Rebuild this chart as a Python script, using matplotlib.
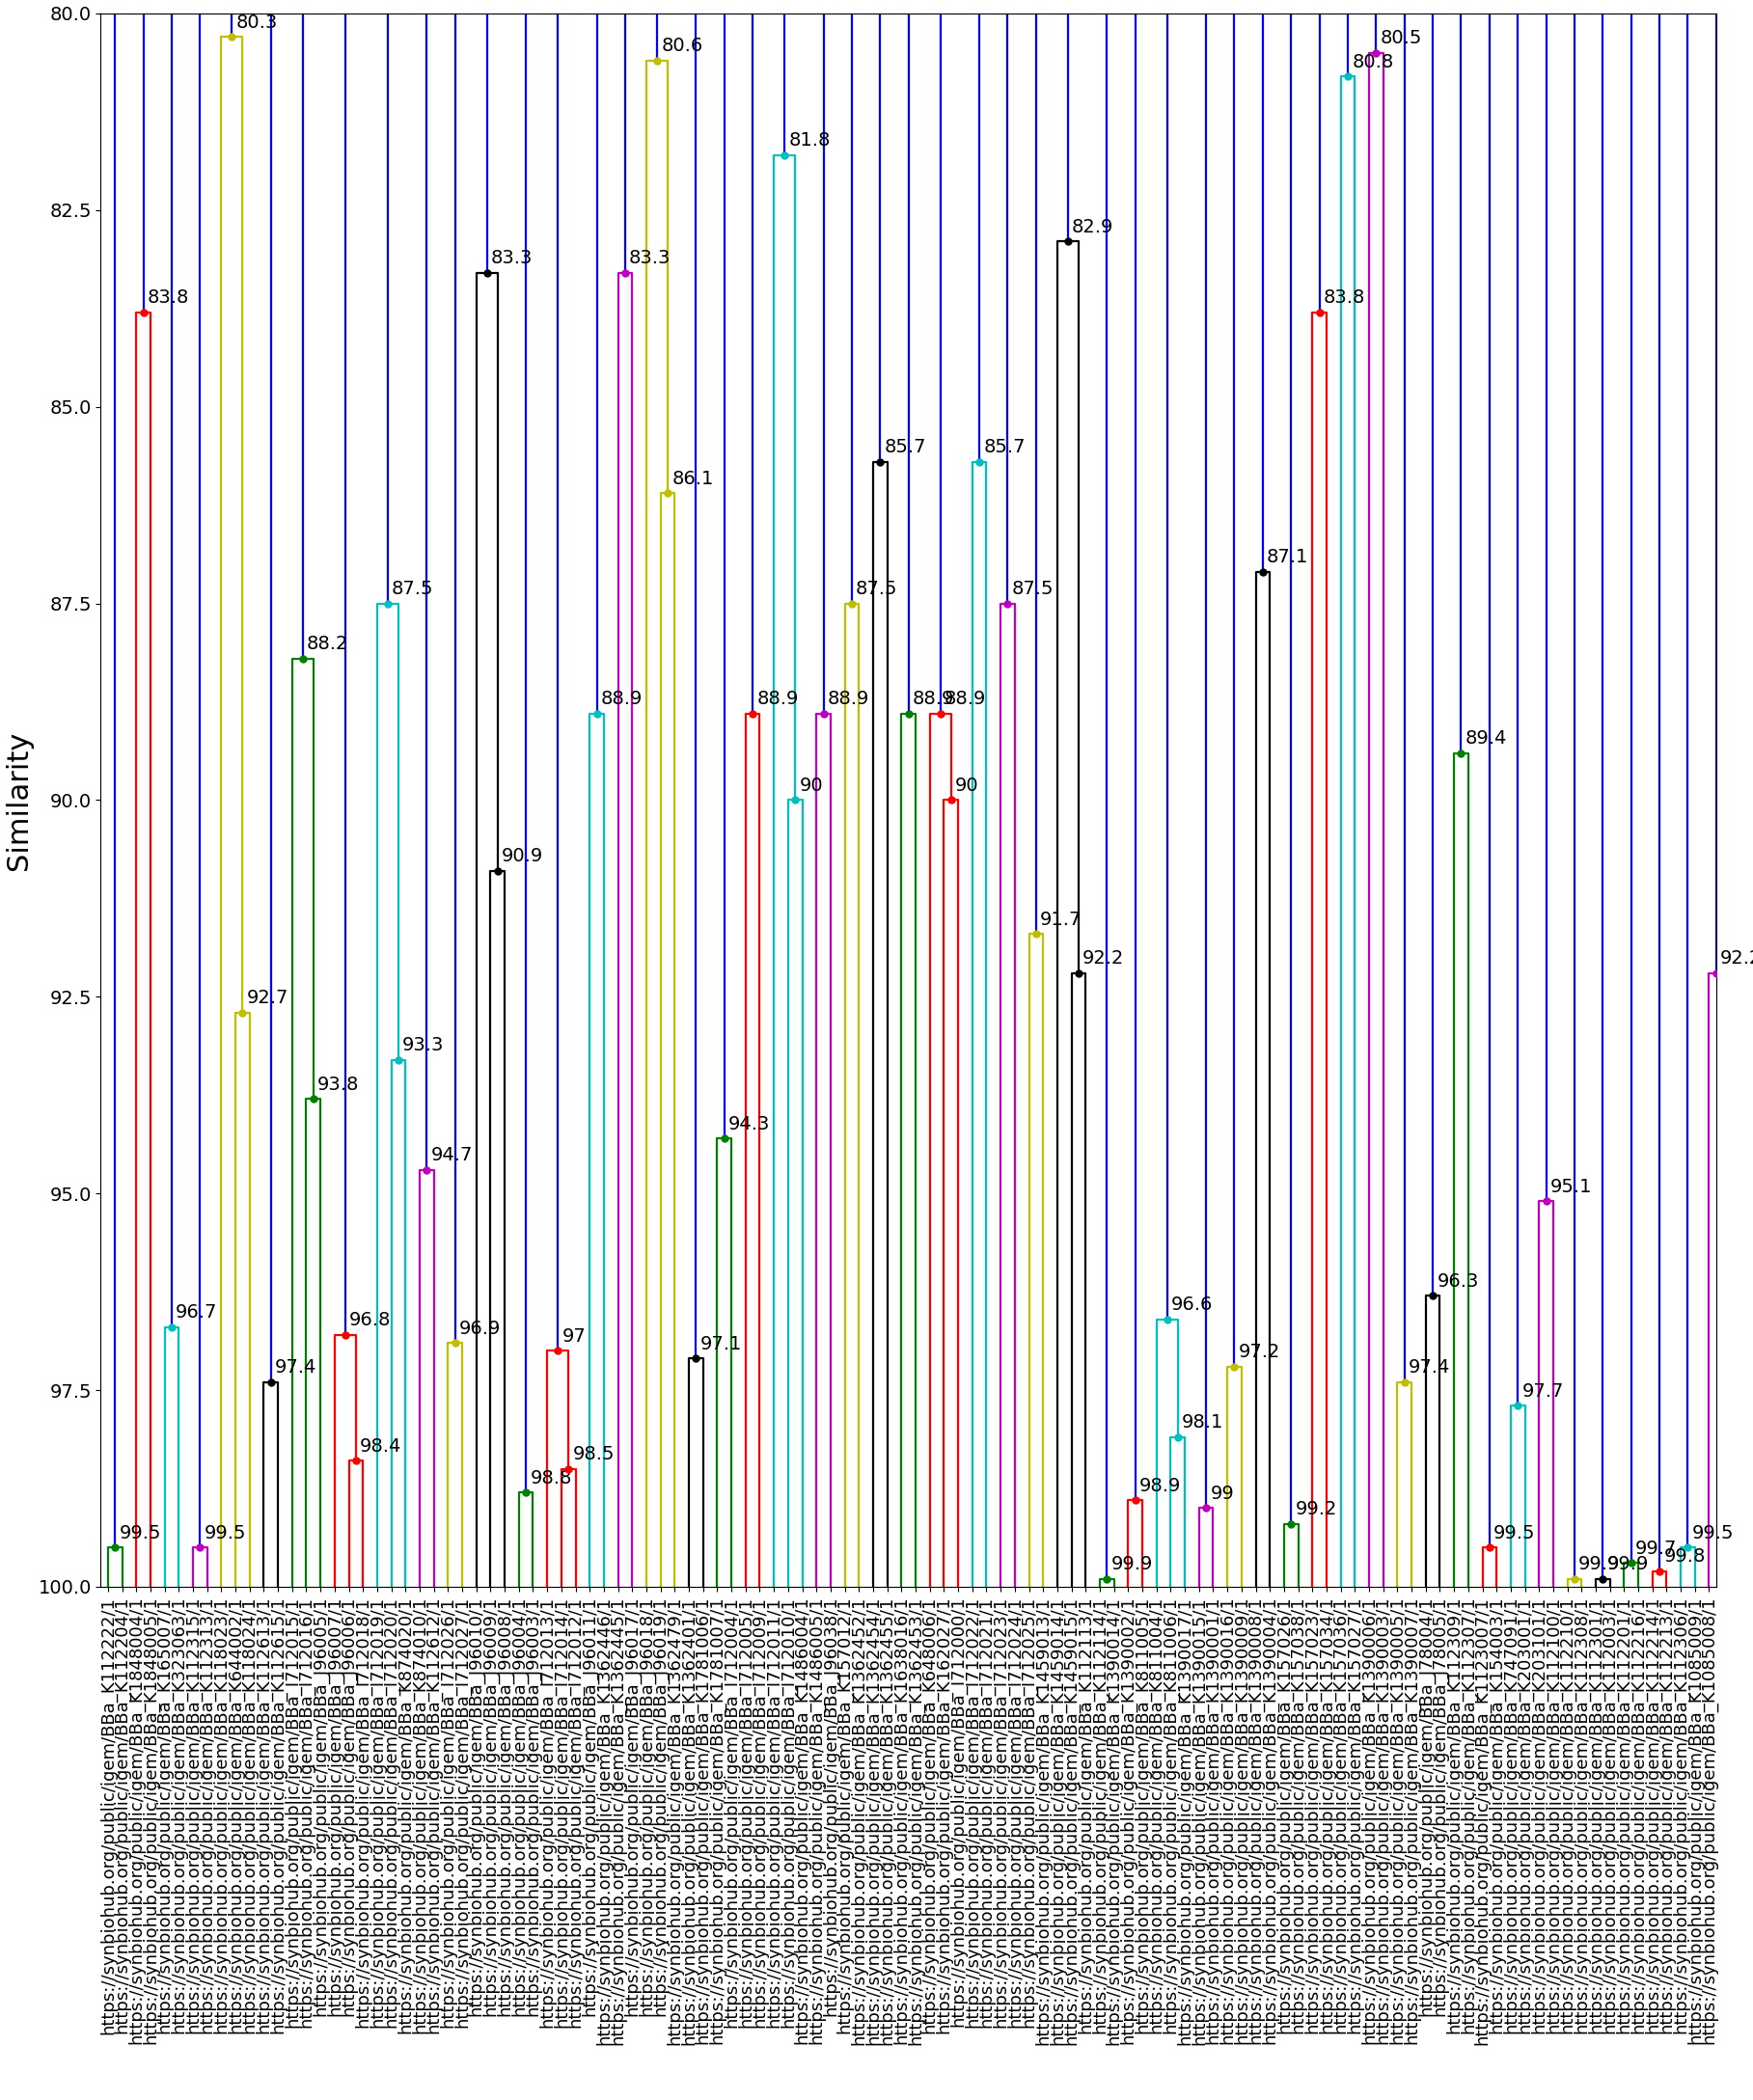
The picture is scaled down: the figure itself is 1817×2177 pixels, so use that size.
import matplotlib
matplotlib.use("Agg")
import matplotlib.pyplot as plt
import numpy as np

# leaf ids, left to right
LEAF_IDS = [
    "K112222", "K112204", "K1848004", "K1848005", "K165007", "K323063", "K112315", "K112313",
    "K118023", "K644002", "K118024", "K112613", "K112615", "I712015", "I712016", "J96005",
    "J96007", "J96006", "I712018", "I712019", "I712020", "K874020", "K874010", "K112612",
    "I712026", "I712027", "J96010", "J96009", "J96008", "J96004", "J96003", "I712013",
    "I712014", "I712012", "J96011", "K1362446", "K1362445", "J96017", "J96018", "J96019",
    "K1362479", "K1362401", "K1781006", "K1781007", "I712004", "I712005", "I712009", "I712011",
    "I712010", "K1486004", "K1486005", "J96038", "K157012", "K1362452", "K1362454", "K1362455",
    "K1638016", "K1362453", "K648006", "K162027", "I712000", "I712022", "I712021", "I712023",
    "I712024", "I712025", "K1459013", "K1459014", "K1459015", "K112113", "K112114", "K1390014",
    "K1390002", "K811005", "K811004", "K811006", "K1390017", "K1390015", "K1390001", "K1390016",
    "K1390009", "K1390008", "K1390004", "K157026", "K157038", "K157023", "K157034", "K157036",
    "K157027", "K1390006", "K1390003", "K1390005", "K1390007", "J78004", "J78005", "K112309",
    "K112307", "K1123007", "K154003", "K747091", "K203001", "K203101", "K112100", "K112210",
    "K112308", "K112301", "K112003", "K112201", "K112216", "K112214", "K112213", "K112306",
    "K1085009", "K1085008",
]
LABELS = ["https://synbiohub.org/public/igem/BBa_%s/1" % s for s in LEAF_IDS]

# colour clusters: number of leaves, top merge, inner merge (3-leaf clusters: last two leaves join first)
CLUSTER_SIZE = [2, 2, 2, 2, 3, 2, 3, 3, 3, 2, 2, 3, 2, 3, 2, 2, 3, 2, 2, 2, 3, 2, 2, 2, 2, 3,
                2, 2, 2, 3, 2, 2, 3, 2, 2, 2, 2, 2, 2, 2, 2, 2, 2, 2, 2, 2, 2, 2, 2, 2, 2, 2]
TOP_SIM = [99.5, 83.8, 96.7, 99.5, 80.3, 97.4, 88.2, 96.8, 87.5, 94.7, 96.9, 83.3, 98.8, 97, 88.9,
           83.3, 80.6, 97.1, 94.3, 88.9, 81.8, 88.9, 87.5, 85.7, 88.9, 88.9, 85.7, 87.5, 91.7,
           82.9, 99.9, 98.9, 96.6, 99, 97.2, 87.1, 99.2, 83.8, 80.8, 80.5, 97.4, 96.3, 89.4,
           99.5, 97.7, 95.1, 99.9, 99.9, 99.7, 99.8, 99.5, 92.2]
INNER_SIM = [None, None, None, None, 92.7, None, 93.8, 98.4, 93.3, None, None, 90.9, None, 98.5,
             None, None, 86.1, None, None, None, 90, None, None, None, None, 90, None, None, None,
             92.2, None, None, 98.1] + [None] * 19

COLORS = ["g", "r", "c", "m", "y", "k"]
LW = 1.6

fig = plt.figure(figsize=(18.17, 21.77), dpi=100)
ax = fig.add_axes([0.0575, 0.2444, 0.9215, 0.7492])


def mark(x, y, col):
    ax.plot(x, y, "o", color=col, ms=5, zorder=3)
    ax.annotate(f"{y:g}", (x, y), xytext=(3, 4), textcoords="offset points",
                va="bottom", ha="left", fontsize=14)


pos = 0
for k, n in enumerate(CLUSTER_SIZE):
    col = COLORS[k % len(COLORS)]
    xs = [10 * (pos + j) + 5 for j in range(n)]
    top = TOP_SIM[k]
    if n == 2:
        left_x, right_x, right_y = xs[0], xs[1], 100
    else:
        inner = INNER_SIM[k]
        ax.plot([xs[1], xs[1], xs[2], xs[2]], [100, inner, inner, 100], color=col, lw=LW)
        mid = (xs[1] + xs[2]) / 2
        mark(mid, inner, col)
        left_x, right_x, right_y = xs[0], mid, inner
    ax.plot([left_x, left_x, right_x, right_x], [100, top, top, right_y], color=col, lw=LW)
    cx = (left_x + right_x) / 2
    # link above the colour threshold
    ax.plot([cx, cx], [top, 70], color="b", lw=LW, zorder=1)
    mark(cx, top, col)
    pos += n

n_leaves = len(LABELS)
ax.set_xlim(0, 10 * n_leaves)
ax.set_ylim(100, 80)
ax.set_xticks(np.arange(5, 10 * n_leaves, 10))
ax.set_xticklabels(LABELS, rotation=90, fontsize=13)
ax.set_yticks(np.arange(80, 100.1, 2.5))
ax.tick_params(axis="y", labelsize=14)
ax.set_ylabel("Similarity", fontsize=22)

fig.savefig("out.png", dpi=100)
